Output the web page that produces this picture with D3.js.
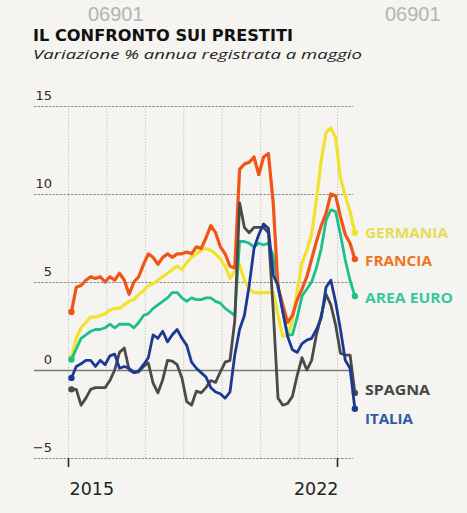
<!DOCTYPE html>
<html>
<head>
<meta charset="utf-8">
<script src="https://cdn.jsdelivr.net/npm/d3@7"></script>
<style>
  body { margin: 0; background: #f5f4f0; }
  svg { display: block; }
</style>
</head>
<body>
<div id="chart"></div>
<script>
// --- data ---
const yearTicks = [2015, 2016, 2017, 2018, 2019, 2020, 2021, 2022];
const yearLabels = [2015, 2022];
const yTicks = [-5, 0, 5, 10, 15];
// sampling dates: every 1.5 months from Feb 2015
const dates = d3.range(60).map(i => 2015.09 + i * 0.125);

const germania = [0.7, 1.8, 2.4, 2.7, 3.0, 3.0, 3.1, 3.2, 3.4, 3.5, 3.5, 3.7, 3.9, 4.0, 4.3, 4.5, 4.8, 4.9, 5.1, 5.3,
  5.5, 5.7, 5.9, 5.7, 6.1, 6.4, 6.6, 6.8, 6.9, 6.8, 6.6, 6.3, 5.9, 5.2, 5.6, 6.0, 5.1, 4.6, 4.4, 4.4,
  4.4, 4.4, 4.4, 3.1, 1.9, 2.0, 2.8, 4.5, 6.1, 6.8, 7.7, 9.7, 11.9, 13.5, 13.75, 13.2, 10.9, 9.9, 9.0, 7.8];
const francia = [3.3, 4.7, 4.8, 5.1, 5.3, 5.2, 5.3, 5.0, 5.3, 5.1, 5.5, 5.1, 4.3, 5.0, 5.3, 6.0, 6.6, 6.4, 6.0, 6.4,
  6.6, 6.4, 6.6, 6.6, 6.7, 6.6, 7.0, 6.9, 7.5, 8.2, 7.8, 7.0, 6.6, 5.9, 5.8, 11.4, 11.7, 11.8, 12.1, 11.1,
  12.1, 12.3, 9.5, 4.7, 3.7, 2.7, 3.1, 4.0, 4.6, 5.3, 6.3, 7.3, 8.2, 8.9, 10.0, 9.9, 8.7, 7.7, 7.2, 6.3];
const areaEuro = [0.6, 1.2, 1.8, 2.0, 2.2, 2.3, 2.3, 2.4, 2.6, 2.4, 2.6, 2.6, 2.6, 2.4, 2.7, 3.1, 3.2, 3.5, 3.7, 3.9,
  4.1, 4.4, 4.4, 4.1, 3.9, 4.1, 4.0, 4.0, 4.1, 4.1, 3.9, 3.8, 3.5, 3.3, 3.1, 7.3, 7.3, 7.2, 7.0, 7.2,
  7.1, 7.2, 6.5, 4.7, 3.3, 2.0, 2.0, 3.0, 4.2, 4.6, 5.0, 5.8, 6.9, 8.5, 9.1, 9.0, 7.7, 6.25, 5.1, 4.2];
const spagna = [-1.1, -1.1, -2.0, -1.6, -1.1, -1.0, -1.0, -1.0, -0.6, 0.0, 1.0, 1.25, 0.0, -0.15, -0.1, 0.2, 0.4, -0.75, -1.3, -0.55,
  0.55, 0.5, 0.3, -0.45, -1.8, -2.0, -1.2, -1.3, -1.0, -0.6, -0.7, -0.1, 0.45, 0.55, 2.8, 9.5, 8.1, 7.8, 8.1, 8.1,
  8.1, 7.8, 3.4, -1.6, -2.0, -1.9, -1.5, -0.3, 0.7, 0.0, 0.55, 2.0, 3.1, 4.3, 3.7, 2.55, 0.95, 0.85, 0.85, -1.3];
const italia = [-0.45, 0.2, 0.35, 0.55, 0.55, 0.2, 0.55, 0.3, 0.8, 0.9, 0.1, 0.2, 0.1, -0.15, -0.05, 0.3, 0.7, 2.0, 1.8, 2.2,
  1.6, 2.0, 2.3, 1.8, 1.4, 0.45, 0.1, -0.15, -0.4, -1.0, -1.25, -1.35, -1.6, -1.25, 0.85, 2.3, 3.1, 4.8, 6.9, 7.7,
  8.3, 8.05, 5.4, 4.8, 3.3, 1.9, 1.15, 1.0, 1.5, 1.7, 1.8, 2.3, 2.95, 4.7, 5.1, 3.85, 2.3, 0.55, 0.1, -2.2];

const seriesNames = ['GERMANIA', 'FRANCIA', 'AREA EURO', 'SPAGNA', 'ITALIA'];
const seriesValues = [germania, francia, areaEuro, spagna, italia];

// --- styling / layout ---
const config = { width: 467, height: 513, gridLeft: 34, gridRight: 353, top: 106, bottom: 458 };
const lineColors = ['#f2e22e', '#ef5519', '#1cc08c', '#4a4a4a', '#1c3a92'];
const labelColors = ['#e6dc55', '#ee7424', '#36c8a0', '#454545', '#2b5aa6'];
const labelWidths = [83, 67, 88, 65, 48];
const labelOffsets = [5, 7, 7, 2, 15];
const drawOrder = [0, 2, 1, 3, 4];

const svg = d3.select('#chart').append('svg')
  .attr('width', config.width)
  .attr('height', config.height);

svg.append('rect')
  .attr('width', config.width).attr('height', config.height)
  .attr('fill', '#f5f4f0');

const x = d3.scaleLinear().domain([2015, 2022]).range([68, 337]);
const y = d3.scaleLinear().domain([-5, 15]).range([config.bottom, config.top]);

// watermark
svg.selectAll('text.wm')
  .data([88, 385])
  .join('text')
  .attr('class', 'wm')
  .attr('x', d => d).attr('y', 21)
  .attr('font-family', 'Liberation Sans, Arial, sans-serif')
  .attr('font-size', 20)
  .attr('fill', '#b3b3b3')
  .text('06901');

// title + subtitle
svg.append('text')
  .attr('x', 33).attr('y', 41)
  .attr('font-family', 'DejaVu Sans, sans-serif')
  .attr('font-weight', 'bold')
  .attr('font-size', 15)
  .attr('fill', '#111')
  .attr('textLength', 260)
  .attr('lengthAdjust', 'spacingAndGlyphs')
  .text('IL CONFRONTO SUI PRESTITI');

svg.append('text')
  .attr('x', 33).attr('y', 59)
  .attr('font-family', 'Open Sans, DejaVu Sans, sans-serif')
  .attr('font-style', 'italic')
  .attr('font-size', 13.5)
  .attr('fill', '#222')
  .attr('textLength', 329)
  .attr('lengthAdjust', 'spacingAndGlyphs')
  .text('Variazione % annua registrata a maggio');

// vertical grid
const vGrid = svg.append('g')
  .attr('transform', `translate(0,${config.bottom})`)
  .call(d3.axisBottom(x).tickValues(yearTicks).tickSize(-(config.bottom - config.top)).tickFormat(''));
vGrid.select('.domain').remove();
vGrid.selectAll('line')
  .attr('stroke', '#bdbdbd')
  .attr('stroke-width', 0.8)
  .attr('stroke-dasharray', '1.5,1.5');

// horizontal grid + y labels
const yAxis = svg.append('g')
  .attr('transform', `translate(${config.gridLeft},0)`)
  .call(d3.axisLeft(y).tickValues(yTicks).tickSize(-(config.gridRight - config.gridLeft)));
yAxis.select('.domain').remove();
yAxis.selectAll('line')
  .attr('stroke', d => d === 0 ? '#7a7a7a' : '#8c8c8c')
  .attr('stroke-width', d => d === 0 ? 1.6 : 1)
  .attr('stroke-dasharray', d => d === 0 ? null : '2.5,1.2');
yAxis.selectAll('text')
  .attr('x', 18).attr('y', -7).attr('dy', 0)
  .attr('text-anchor', 'end')
  .attr('font-family', 'DejaVu Sans, sans-serif')
  .attr('font-size', 13)
  .attr('fill', '#2a2a2a');

// x axis ticks + year labels
const xAxis = svg.append('g')
  .attr('transform', `translate(0,${config.bottom})`)
  .call(d3.axisBottom(x).tickValues(yearLabels).tickSize(9).tickFormat(d3.format('d')));
xAxis.select('.domain').remove();
xAxis.selectAll('line').attr('stroke', '#2a2a2a').attr('stroke-width', 1.6);
xAxis.selectAll('text')
  .attr('y', 37).attr('dy', 0)
  .attr('x', 1)
  .attr('text-anchor', d => d === 2015 ? 'start' : 'end')
  .attr('font-family', 'DejaVu Sans, sans-serif')
  .attr('font-size', 17.5)
  .attr('fill', '#222');

// lines
const line = d3.line()
  .x((d, i) => x(dates[i]))
  .y(d => y(d));

const lines = svg.append('g');
drawOrder.forEach(k => {
  const vals = seriesValues[k];
  lines.append('path')
    .datum(vals)
    .attr('fill', 'none')
    .attr('stroke', lineColors[k])
    .attr('stroke-width', k === 0 || k === 1 ? 3.2 : 2.8)
    .attr('stroke-linejoin', 'round')
    .attr('stroke-linecap', 'round')
    .attr('d', line);

  lines.selectAll(null)
    .data([0, vals.length - 1])
    .join('circle')
    .attr('cx', i => x(dates[i]))
    .attr('cy', i => y(vals[i]))
    .attr('r', 3.2)
    .attr('fill', lineColors[k]);
});

// end labels
svg.append('g').selectAll('text')
  .data(seriesNames)
  .join('text')
  .attr('x', 365)
  .attr('y', (d, k) => y(seriesValues[k][seriesValues[k].length - 1]) + labelOffsets[k])
  .attr('font-family', 'Open Sans, DejaVu Sans, sans-serif')
  .attr('font-weight', 700)
  .attr('font-size', 14)
  .attr('fill', (d, k) => labelColors[k])
  .attr('textLength', (d, k) => labelWidths[k])
  .attr('lengthAdjust', 'spacingAndGlyphs')
  .text(d => d);
</script>
</body>
</html>
